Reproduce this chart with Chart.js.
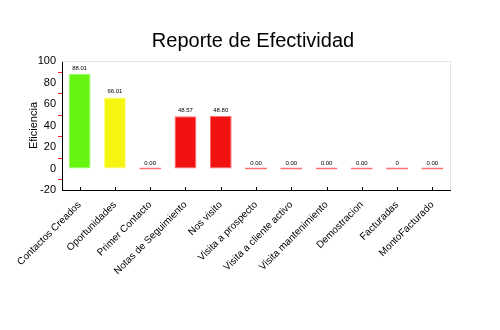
<!DOCTYPE html>
<html>
<head>
<meta charset="utf-8">
<script src="https://cdn.jsdelivr.net/npm/chart.js@4"></script>
<style>
  html, body { margin: 0; padding: 0; background: #fff; }
  #wrap { width: 500px; height: 330px; }
</style>
</head>
<body>
<div id="wrap"><canvas id="canvas" width="500" height="330"></canvas></div>
<script>
var categorias = ['Contactos Creados', 'Oportunidades', 'Primer Contacto', 'Notas de Seguimiento',
  'Nos visito', 'Visita a prospecto', 'Visita a cliente activo', 'Visita mantenimiento',
  'Demostracion', 'Facturadas', 'MontoFacturado'];
// porcentajes tal como vienen del reporte
var valores = ['88.01', '66.01', '0.00', '48.57', '48.80', '0.00', '0.00', '0.00', '0.00', '0', '0.00'];
var colores = ['#66f511', '#f5f511', '#f21111', '#f21111', '#f21111', '#f21111',
  '#f21111', '#f21111', '#f21111', '#f21111', '#f21111'];
var bordes = ['#9cff70', '#ffff80', '#ff7070', '#ff7070', '#ff7070', '#ff7070',
  '#ff7070', '#ff7070', '#ff7070', '#ff7070', '#ff7070'];
var ticksY = [-20, 0, 20, 40, 60, 80, 100];

var fuente = '"Liberation Sans", Arial, sans-serif';

// etiquetas de valor sobre cada barra + marcas del eje
var extras = {
  id: 'extras',
  afterDatasetsDraw: function(chart) {
    var ctx = chart.ctx;
    var area = chart.chartArea;
    var x = chart.scales.x, y = chart.scales.y;
    ctx.save();
    // borde gris arriba y a la derecha
    ctx.strokeStyle = '#e4e4e4';
    ctx.lineWidth = 1;
    ctx.beginPath();
    ctx.moveTo(area.left, area.top + 0.5);
    ctx.lineTo(area.right + 0.5, area.top + 0.5);
    ctx.lineTo(area.right + 0.5, area.bottom);
    ctx.stroke();
    // marcas menores rojas en el eje y
    ctx.strokeStyle = '#ff2020';
    for (var v = -10; v < 100; v += 20) {
      var py = Math.round(y.getPixelForValue(v)) + 0.5;
      ctx.beginPath();
      ctx.moveTo(area.left - 4, py);
      ctx.lineTo(area.left, py);
      ctx.stroke();
    }
    // marcas del eje x
    ctx.strokeStyle = '#000';
    for (var i = 0; i < categorias.length; i++) {
      var px = Math.round(x.getPixelForValue(i)) + 0.5;
      ctx.beginPath();
      ctx.moveTo(px, area.bottom - 3);
      ctx.lineTo(px, area.bottom + 1);
      ctx.stroke();
    }
    // texto de valores
    ctx.fillStyle = '#000';
    ctx.font = '6px ' + fuente;
    ctx.textAlign = 'center';
    ctx.textBaseline = 'bottom';
    var meta = chart.getDatasetMeta(0);
    meta.data.forEach(function(bar, i) {
      ctx.fillText(valores[i], bar.x, bar.y - 3);
    });
    ctx.restore();
  }
};

var ctx = document.getElementById('canvas').getContext('2d');
window.myBar = new Chart(ctx, {
  type: 'bar',
  data: {
    labels: categorias,
    datasets: [{
      data: valores.map(parseFloat),
      backgroundColor: colores,
      borderColor: bordes,
      borderWidth: 1,
      borderSkipped: false,
      minBarLength: 2,
      barPercentage: 0.69,
      categoryPercentage: 0.9
    }]
  },
  options: {
    responsive: false,
    animation: false,
    layout: { padding: { left: 6, right: 0, top: 0, bottom: 0 } },
    plugins: {
      legend: { display: false },
      tooltip: { enabled: false },
      title: {
        display: true,
        text: 'Reporte de Efectividad',
        color: '#000',
        font: { family: fuente, size: 20, weight: 'normal' },
        padding: { top: 29, bottom: 8 }
      }
    },
    scales: {
      y: {
        min: -20,
        max: 100,
        afterBuildTicks: function(scale) {
          scale.ticks = ticksY.map(function(v) { return { value: v }; });
        },
        afterFit: function(scale) { scale.width = 56; },
        grid: { display: false, drawTicks: false },
        border: { display: true, color: '#000', width: 1 },
        ticks: { color: '#000', padding: 6, autoSkip: false, font: { family: fuente, size: 11 } },
        title: {
          display: true,
          text: 'Eficiencia',
          color: '#000',
          padding: { top: 21, bottom: 0 },
          font: { family: fuente, size: 11 }
        }
      },
      // espacio vacio a la derecha del area de trazado
      derecha: {
        position: 'right',
        display: true,
        afterFit: function(scale) { scale.width = 50; },
        grid: { display: false, drawTicks: false },
        border: { display: false },
        ticks: { display: false }
      },
      x: {
        afterFit: function(scale) { scale.height = 140; },
        grid: { display: false },
        border: { display: true, color: '#000', width: 1 },
        ticks: {
          color: '#000',
          autoSkip: false,
          minRotation: 45,
          maxRotation: 45,
          padding: 1,
          font: { family: fuente, size: 10 }
        }
      }
    }
  },
  plugins: [extras]
});
</script>
</body>
</html>
